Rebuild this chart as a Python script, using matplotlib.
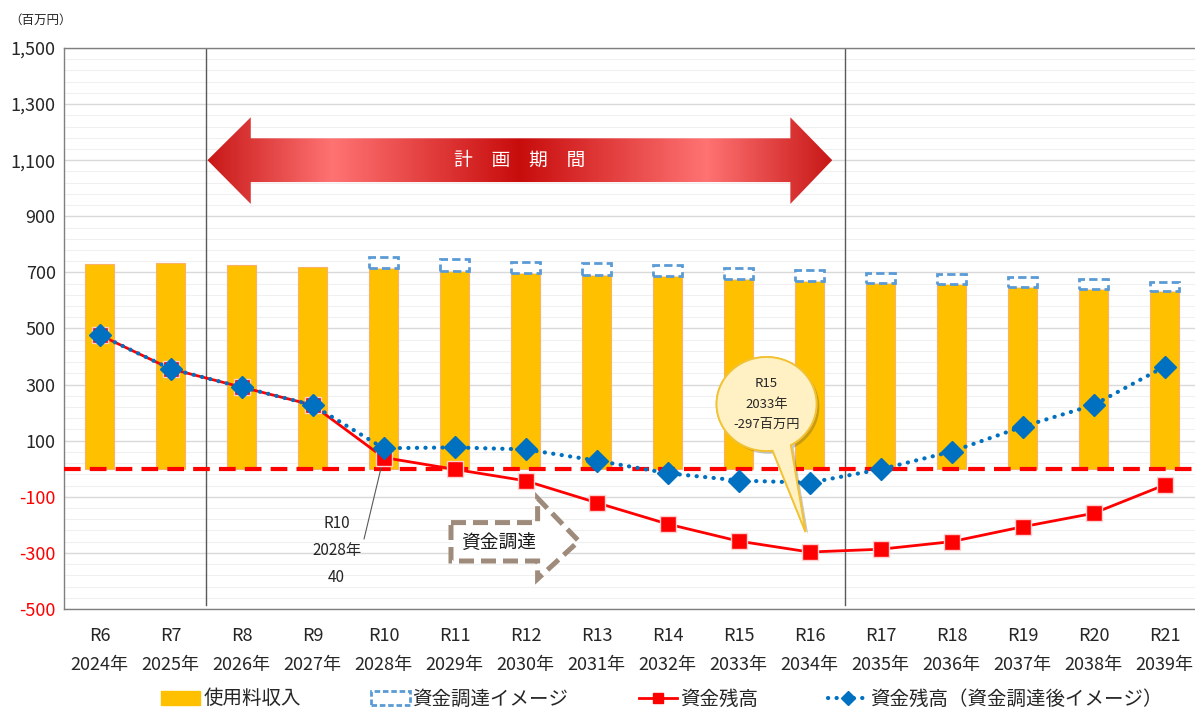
import numpy as np
import matplotlib
matplotlib.use("Agg")
import matplotlib.pyplot as plt
import matplotlib.transforms as mtransforms
import matplotlib.patheffects as pe
from matplotlib.patches import Polygon, PathPatch, Rectangle
from matplotlib.path import Path
from matplotlib.lines import Line2D
from matplotlib.colors import LinearSegmentedColormap
from matplotlib.ticker import FixedLocator

plt.rcParams['font.family'] = ['Noto Sans CJK JP', 'DejaVu Sans']

# 年度（令和／西暦）
reiwa = ['R6', 'R7', 'R8', 'R9', 'R10', 'R11', 'R12', 'R13',
         'R14', 'R15', 'R16', 'R17', 'R18', 'R19', 'R20', 'R21']
years = list(range(2024, 2040))

# 百万円
income = [730, 733, 726, 719, 714, 706, 699, 692,
          687, 676, 669, 662, 658, 649, 642, 633]
funding = [0, 0, 0, 0, 40, 41, 39, 40,
           39, 38, 39, 37, 36, 33, 34, 34]
balance = [477, 356, 291, 227, 40, -2, -43, -121,
           -197, -258, -297, -287, -260, -207, -159, -58]
balance_after = [477, 356, 291, 227, 73, 76, 69, 29,
                 -16, -42, -50, -2, 61, 150, 227, 364]

yticks = list(range(-500, 1501, 200))

x = np.arange(len(years))
funding = np.array(funding)
income_arr = np.array(income)

fig = plt.figure(figsize=(11.95, 7.13), dpi=100)
ax = fig.add_axes([0.0536, 0.1459, 0.9506, 0.7868])
ax.set_xlim(-0.5, 15.5)
ax.set_ylim(-500, 1500)

# grid
ax.set_yticks(yticks, labels=[f"{v:,}" for v in yticks])
ax.yaxis.set_minor_locator(FixedLocator(np.arange(-500, 1501, 40)))
ax.grid(axis='y', which='major', color='#d9d9d9', lw=1.0, zorder=0)
ax.grid(axis='y', which='minor', color='#f0f0f0', lw=0.8, zorder=0)
ax.set_axisbelow(True)
ax.tick_params(axis='y', which='both', length=0, pad=6, labelsize=13, labelcolor='#262626')

ax.set_xticks(x, labels=[f"{r}\n{y}年" for r, y in zip(reiwa, years)])
ax.tick_params(axis='x', length=0, pad=13, labelsize=13, labelcolor='#262626')
for lab in ax.get_xticklabels():
    lab.set_linespacing(1.8)

for side in ['left', 'bottom', 'top']:
    ax.spines[side].set_color('#7f7f7f')
    ax.spines[side].set_linewidth(1.0)
ax.spines['right'].set_visible(False)

# bars
ax.bar(x, income, width=0.4, color='#ffc000', edgecolor='#f8b26a', linewidth=0.8, zorder=2)
m = funding > 0
ax.bar(x[m], funding[m], bottom=income_arr[m], width=0.42, facecolor='white',
       edgecolor='#5b9bd5', linewidth=2, linestyle=(0, (3, 1.5)), zorder=2)

# planning period borders
ax.axvline(1.5, ymin=0.007, color='#595959', lw=1, zorder=1.5)
ax.axvline(10.5, ymin=0.007, color='#595959', lw=1, zorder=1.5)

ax.axhline(0, color='#ff0000', lw=3, dashes=(4, 2.2), zorder=3)

ax.plot(x, balance, color='#ff0000', lw=2, marker='s', ms=11,
        mfc='#ff0000', mec='#ffd0d0', mew=1, zorder=4)
ax.plot(x, balance_after, color='#0070c0', lw=3, linestyle=(0, (0.05, 2.0)),
        dash_capstyle='round', marker='D', ms=11, mfc='#0070c0', mec='#0070c0',
        zorder=5)

# 計画期間 double arrow
arrow_pts = [(1.52, 1100), (2.13, 1253), (2.13, 1178), (9.73, 1178), (9.73, 1253),
             (10.32, 1100), (9.73, 944), (9.73, 1022), (2.13, 1022), (2.13, 944)]
arrow = Polygon(arrow_pts, closed=True, facecolor='none', edgecolor='none', zorder=3)
ax.add_patch(arrow)
red_grad = LinearSegmentedColormap.from_list('plan', [
    (0.0, '#c81818'), (0.2, '#ff7373'), (0.5, '#c80c0c'),
    (0.8, '#ff7373'), (1.0, '#c81818')])
im = ax.imshow(np.linspace(0, 1, 512).reshape(1, -1), extent=[1.52, 10.32, 944, 1253],
               aspect='auto', cmap=red_grad, interpolation='bicubic', zorder=3)
im.set_clip_path(arrow)
ax.text(5.92, 1100, "計　画　期　間", color='white', fontsize=13.5,
        ha='center', va='center', zorder=4)
ax.set_xlim(-0.5, 15.5)
ax.set_ylim(-500, 1500)

# 資金調達 dashed block arrow
fund_pts = [(4.95, -192), (6.17, -192), (6.17, -105), (6.75, -258),
            (6.17, -393), (6.17, -329), (4.95, -329)]
ax.add_patch(Polygon(fund_pts, closed=True, facecolor='white', edgecolor='#9e8b7b',
                     lw=3.6, linestyle=(0, (3, 1.4)), zorder=3))
ax.text(5.62, -262, "資金調達", fontsize=13.5, ha='center', va='center', color='#1a1a1a', zorder=4)

# R10 label
i10 = reiwa.index('R10')
ax.annotate(f"{reiwa[i10]}\n{years[i10]}年\n{balance[i10]}", xy=(x[i10], balance[i10]),
            xytext=(3.34, -292), ha='center', va='center', fontsize=11,
            linespacing=1.75, color='#262626', zorder=3.5,
            arrowprops=dict(arrowstyle='-', color='#595959', lw=0.8,
                            shrinkA=0, shrinkB=0, relpos=(1, 0.5)))

# callout at the lowest balance
imin = int(np.argmin(balance))
anchor = mtransforms.ScaledTranslation(x[imin], balance[imin], ax.transData)
trans = fig.dpi_scale_trans + anchor
cx, cy, rx, ry = -0.43, 1.48, 0.50, 0.47
t = np.radians(np.linspace(-61, 277, 120))
verts = [(cx + rx * np.cos(a), cy + ry * np.sin(a)) for a in t]
verts.append((-0.04, 0.20))
verts.append(verts[0])
codes = [Path.MOVETO] + [Path.LINETO] * (len(verts) - 2) + [Path.CLOSEPOLY]
bubble = PathPatch(Path(verts, codes), facecolor='#fff1c4', edgecolor='#f2c233',
                   lw=1.3, transform=trans, zorder=6,
                   path_effects=[pe.withSimplePatchShadow(offset=(2, -2), alpha=0.3),
                                 pe.Normal()])
ax.add_artist(bubble)
ax.text(cx, cy, f"R15\n2033年\n{balance[imin]}百万円", transform=trans,
        ha='center', va='center', fontsize=9.5, linespacing=1.75,
        color='#262626', zorder=7)

fig.text(0.008, 1 - 20 / 713, "（百万円）", fontsize=9, va='center', color='#262626')

handles = [
    Rectangle((0, 0), 1, 1, facecolor='#ffc000', edgecolor='#ffc000'),
    Rectangle((0, 0), 1, 1, facecolor='white', edgecolor='#5b9bd5', lw=2,
              linestyle=(0, (2, 1))),
    Line2D([], [], color='#ff0000', lw=2, marker='s', ms=7, mfc='#ff0000', mec='#ff0000'),
    Line2D([], [], color='#0070c0', lw=3, linestyle=(0, (0.05, 2.0)),
           dash_capstyle='round', marker='D', ms=7, mfc='#0070c0', mec='#0070c0'),
]
labels = ['使用料収入', '資金調達イメージ', '資金残高', '資金残高（資金調達後イメージ）']
fig.legend(handles, labels, loc='center', bbox_to_anchor=(0.554, 14 / 713), ncol=4,
           frameon=False, fontsize=14, handlelength=2.0, handletextpad=0.15,
           columnspacing=3.6, borderaxespad=0, labelcolor='#262626')

# negative values in red
fig.canvas.draw()
for tick in ax.yaxis.get_major_ticks():
    if tick.get_loc() < 0:
        tick.label1.set_color('#ff0000')

fig.savefig('out.png', dpi=100)
